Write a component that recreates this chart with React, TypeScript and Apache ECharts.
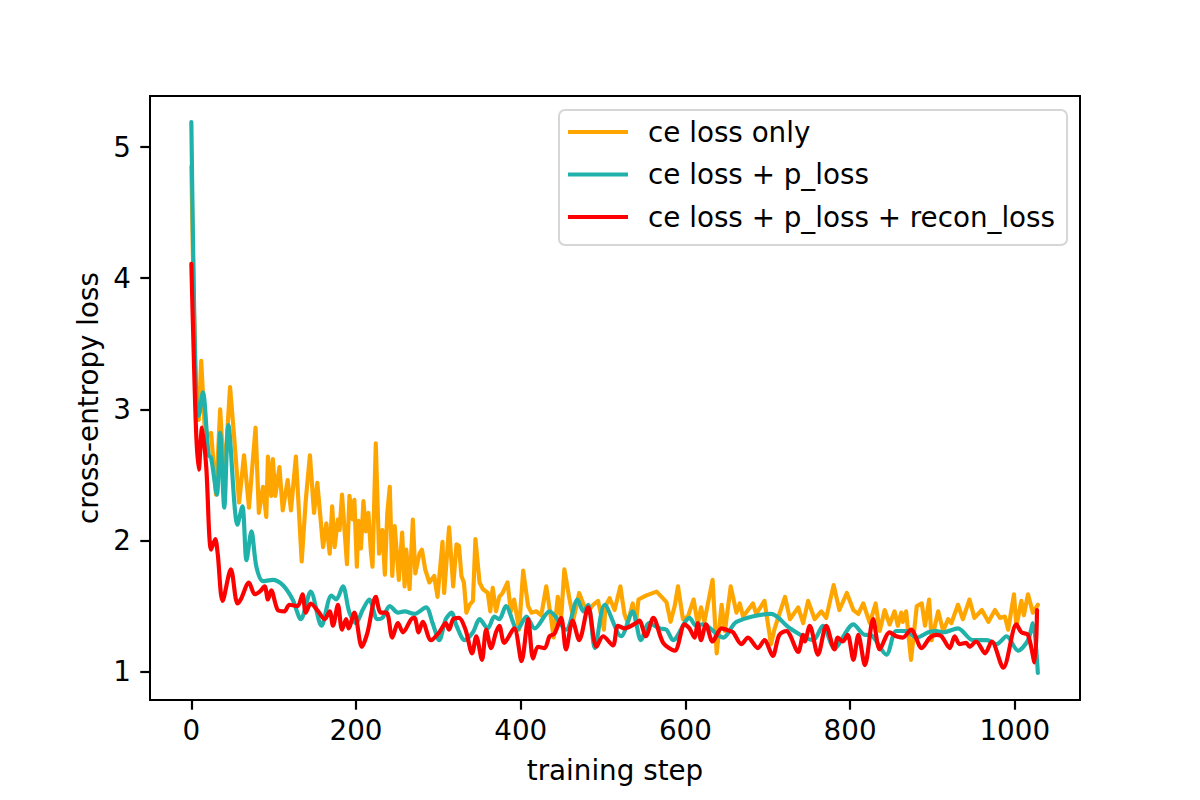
import { useEffect, useRef } from "react";
import * as echarts from "echarts";

const seriesNames = ["ce loss only", "ce loss + p_loss", "ce loss + p_loss + recon_loss"];
const xTicks = [0, 200, 400, 600, 800, 1000];
const yTicks = [1, 2, 3, 4, 5];

const orangeSteps = [
  0, 3, 6, 9, 12, 16, 20, 24, 30, 35, 40, 47, 52, 58, 64, 70, 74, 78, 82, 87, 91, 93, 97, 99, 102, 107, 111, 117, 121, 127,
  134, 139, 144, 149, 153, 160, 164, 168, 171, 174, 178, 180, 183, 189, 192, 196, 198, 201, 203, 206, 209, 212, 215, 218, 220,
  224, 228, 232, 235, 238, 241, 244, 247, 252, 256, 259, 261, 265, 269, 272, 277, 280, 284, 289, 295, 299, 305, 307, 313, 318,
  322, 325, 328, 331, 334, 338, 342, 345, 350, 354, 360, 363, 366, 370, 374, 378, 384, 388, 392, 398, 403, 409, 413, 419, 425,
  431, 437, 440, 445, 449, 453, 459, 464, 471, 477, 483, 488, 494, 498, 501, 503, 508, 514, 521, 526, 530, 536, 540, 543, 552,
  565, 571, 577, 582, 587, 591, 597, 603, 610, 615, 619, 623, 633, 638, 644, 648, 655, 662, 666, 670, 682, 686, 696, 704, 708,
  712, 721, 727, 737, 743, 749, 757, 765, 771, 780, 787, 796, 804, 810, 816, 824, 831, 836, 842, 848, 854, 858, 862, 864, 868,
  874, 881, 887, 891, 896, 899, 907, 913, 919, 923, 931, 937, 945, 951, 960, 968, 976, 982, 988, 992, 999, 1002, 1008, 1011,
  1016, 1022, 1028,
];
const orangeLoss = [
  4.85, 3.8, 3.05, 2.92, 3.37, 2.88, 2.8, 2.82, 2.35, 3.0, 2.46, 3.17, 2.79, 2.29, 2.65, 2.25, 2.56, 2.86, 2.21, 2.41, 2.18,
  2.64, 2.34, 2.62, 2.34, 2.56, 2.23, 2.46, 2.23, 2.64, 1.84, 2.31, 2.65, 2.21, 2.44, 1.95, 2.13, 1.9, 2.26, 1.95, 2.16, 2.08,
  2.35, 1.82, 2.34, 2.16, 2.31, 1.8, 2.15, 1.94, 2.3, 2.07, 2.21, 1.92, 1.8, 2.74, 1.9, 2.08, 1.74, 2.21, 2.41, 1.73, 2.11, 1.7,
  2.06, 1.65, 1.93, 1.63, 2.16, 1.75, 1.9, 1.93, 1.78, 1.68, 1.73, 1.57, 1.99, 1.6, 2.1, 1.65, 1.97, 1.96, 1.73, 1.68, 1.45,
  1.51, 1.54, 2.01, 1.68, 1.63, 1.6, 1.46, 1.64, 1.46, 1.57, 1.6, 1.68, 1.46, 1.55, 1.32, 1.77, 1.5, 1.45, 1.46, 1.43, 1.65,
  1.4, 1.26, 1.57, 1.4, 1.78, 1.56, 1.4, 1.6, 1.5, 1.47, 1.51, 1.54, 1.42, 1.32, 1.5, 1.56, 1.47, 1.65, 1.44, 1.37, 1.52, 1.37,
  1.55, 1.58, 1.61, 1.57, 1.53, 1.38, 1.5, 1.65, 1.4, 1.42, 1.55, 1.36, 1.49, 1.38, 1.7, 1.14, 1.51, 1.31, 1.65, 1.45, 1.52,
  1.42, 1.52, 1.44, 1.54, 1.21, 1.32, 1.4, 1.57, 1.4, 1.49, 1.37, 1.54, 1.4, 1.46, 1.41, 1.66, 1.47, 1.6, 1.47, 1.44, 1.52,
  1.37, 1.52, 1.31, 1.47, 1.36, 1.46, 1.35, 1.45, 1.38, 1.46, 1.09, 1.5, 1.52, 1.35, 1.55, 1.24, 1.46, 1.31, 1.4, 1.37, 1.51,
  1.4, 1.55, 1.41, 1.47, 1.38, 1.47, 1.41, 1.42, 1.32, 1.59, 1.35, 1.54, 1.43, 1.59, 1.45, 1.51,
];

const tealSteps = [
  0, 3, 6, 9, 14, 21, 24, 31, 35, 40, 45, 56, 62, 67, 73, 79, 87, 99, 111, 123, 133, 145, 158, 170, 176, 184, 192, 200, 208,
  216, 226, 232, 241, 251, 259, 271, 285, 293, 301, 309, 316, 322, 332, 342, 350, 360, 368, 374, 382, 396, 407, 417, 435, 455,
  469, 476, 482, 490, 502, 522, 536, 546, 556, 569, 577, 585, 605, 613, 621, 646, 662, 704, 727, 755, 767, 781, 804, 818, 824,
  844, 856, 868, 881, 895, 905, 913, 931, 949, 966, 978, 990, 1004, 1016, 1022, 1028,
];
const tealLoss = [
  5.19, 3.9, 3.1, 2.95, 3.13, 2.65, 2.63, 2.35, 2.82, 2.25, 2.88, 2.12, 2.26, 1.85, 2.07, 1.8, 1.69, 1.7, 1.66, 1.55, 1.4,
  1.61, 1.35, 1.58, 1.55, 1.65, 1.45, 1.37, 1.47, 1.55, 1.4, 1.41, 1.5, 1.45, 1.46, 1.44, 1.49, 1.37, 1.24, 1.4, 1.45, 1.35,
  1.24, 1.3, 1.4, 1.33, 1.42, 1.4, 1.5, 1.32, 1.42, 1.33, 1.46, 1.32, 1.55, 1.46, 1.51, 1.18, 1.51, 1.27, 1.46, 1.24, 1.37,
  1.33, 1.32, 1.24, 1.41, 1.35, 1.36, 1.26, 1.38, 1.44, 1.33, 1.24, 1.35, 1.18, 1.36, 1.28, 1.28, 1.13, 1.31, 1.31, 1.26,
  1.3, 1.31, 1.3, 1.33, 1.24, 1.24, 1.21, 1.27, 1.16, 1.24, 1.37, 0.99,
];

const redSteps = [
  0, 3, 6, 9, 13, 18, 24, 29, 32, 38, 48, 56, 60, 70, 77, 83, 89, 93, 97, 105, 113, 119, 129, 135, 139, 145, 154, 162, 168,
  172, 178, 183, 188, 191, 198, 207, 214, 224, 230, 237, 244, 251, 257, 267, 271, 276, 281, 291, 301, 309, 313, 318, 325, 333,
  341, 346, 353, 358, 364, 370, 374, 380, 392, 401, 409, 415, 421, 429, 435, 441, 449, 455, 463, 471, 482, 492, 500, 512, 518,
  526, 540, 544, 552, 561, 573, 587, 599, 605, 611, 615, 619, 625, 633, 644, 654, 658, 668, 676, 688, 696, 706, 714, 723, 727,
  737, 743, 745, 751, 761, 771, 781, 785, 791, 797, 804, 810, 818, 828, 836, 848, 856, 864, 874, 887, 897, 905, 911, 921, 927,
  933, 941, 945, 953, 964, 972, 986, 1002, 1008, 1016, 1024, 1027,
];
const redLoss = [
  4.11, 3.4, 2.8, 2.54, 2.86, 2.57, 1.93, 2.01, 1.9, 1.54, 1.78, 1.52, 1.55, 1.68, 1.59, 1.61, 1.65, 1.55, 1.62, 1.47, 1.46,
  1.51, 1.5, 1.59, 1.45, 1.52, 1.46, 1.4, 1.46, 1.35, 1.51, 1.32, 1.4, 1.33, 1.45, 1.19, 1.3, 1.57, 1.45, 1.45, 1.26, 1.37,
  1.3, 1.4, 1.41, 1.3, 1.38, 1.24, 1.3, 1.37, 1.32, 1.4, 1.41, 1.32, 1.14, 1.27, 1.09, 1.32, 1.18, 1.3, 1.35, 1.22, 1.33, 1.08,
  1.4, 1.1, 1.19, 1.18, 1.27, 1.29, 1.41, 1.17, 1.39, 1.24, 1.49, 1.19, 1.27, 1.2, 1.35, 1.33, 1.37, 1.39, 1.27, 1.41, 1.22,
  1.16, 1.36, 1.33, 1.26, 1.37, 1.24, 1.36, 1.23, 1.33, 1.31, 1.3, 1.21, 1.26, 1.18, 1.24, 1.12, 1.28, 1.31, 1.28, 1.15, 1.28,
  1.23, 1.35, 1.13, 1.35, 1.17, 1.26, 1.23, 1.28, 1.09, 1.28, 1.05, 1.4, 1.17, 1.3, 1.27, 1.26, 1.32, 1.18, 1.26, 1.28, 1.27,
  1.18, 1.27, 1.21, 1.22, 1.19, 1.23, 1.14, 1.23, 1.03, 1.36, 1.3, 1.28, 1.07, 1.47,
];

const seriesColors = ["#ffa500", "#20b2aa", "#ff0000"];

const zip = (steps: number[], vals: number[]) => steps.map((s, i) => [s, vals[i]]);

const FONT = "DejaVu Sans";
const FS = 27.78;

export default function App() {
  const ref = useRef<HTMLDivElement>(null);
  useEffect(() => {
    const chart = echarts.init(ref.current!, null, { renderer: "svg" });
    const datasets = [zip(orangeSteps, orangeLoss), zip(tealSteps, tealLoss), zip(redSteps, redLoss)];
    chart.setOption({
      animation: false,
      backgroundColor: "#ffffff",
      textStyle: { fontFamily: FONT },
      grid: {
        left: 150,
        top: 96,
        right: 120,
        bottom: 100,
        show: true,
        borderColor: "#000",
        borderWidth: 2,
        backgroundColor: "transparent",
      },
      legend: {
        orient: "vertical",
        left: 559,
        top: 110,
        icon: "rect",
        itemWidth: 60,
        itemHeight: 4,
        itemGap: 12.5,
        padding: [7, 12, 13, 9],
        borderColor: "#d6d6d6",
        borderWidth: 2,
        borderRadius: 6,
        backgroundColor: "rgba(255,255,255,0.8)",
        textStyle: { fontSize: FS, fontFamily: FONT, color: "#000", lineHeight: 30, padding: [0, 0, 0, 15] },
        data: seriesNames,
      },
      xAxis: {
        type: "value",
        min: -50.2,
        max: 1079.2,
        name: "training step",
        nameLocation: "middle",
        nameGap: 56,
        nameTextStyle: { fontSize: FS, fontFamily: FONT, color: "#000" },
        axisLine: { show: true, onZero: false, lineStyle: { color: "#000", width: 2 } },
        axisTick: { show: true, inside: false, length: 9.7, customValues: xTicks, lineStyle: { color: "#000", width: 2.2 } },
        axisLabel: {
          customValues: xTicks,
          formatter: (v: number) => String(v),
          fontSize: FS,
          fontFamily: FONT,
          color: "#000",
          margin: 16,
        },
        splitLine: { show: false },
      },
      yAxis: {
        type: "value",
        min: 0.784,
        max: 5.389,
        name: "cross-entropy loss",
        nameLocation: "middle",
        nameGap: 45,
        nameTextStyle: { fontSize: FS, fontFamily: FONT, color: "#000" },
        axisLine: { show: true, onZero: false, lineStyle: { color: "#000", width: 2 } },
        axisTick: { show: true, inside: false, length: 9.7, customValues: yTicks, lineStyle: { color: "#000", width: 2.2 } },
        axisLabel: {
          customValues: yTicks,
          formatter: (v: number) => String(v),
          fontSize: FS,
          fontFamily: FONT,
          color: "#000",
          margin: 19,
        },
        splitLine: { show: false },
      },
      series: seriesNames.map((name, i) => ({
        name,
        type: "line",
        data: datasets[i],
        showSymbol: false,
        smooth: i === 0 ? false : 0.3,
        color: seriesColors[i],
        lineStyle: { color: seriesColors[i], width: 4.17, join: "round", cap: "round" },
        z: 2 + i,
      })),
    });
    return () => chart.dispose();
  }, []);
  return (
    <div
      ref={ref}
      style={{ position: "fixed", left: 0, top: 0, width: 1200, height: 800, background: "#fff" }}
    />
  );
}
